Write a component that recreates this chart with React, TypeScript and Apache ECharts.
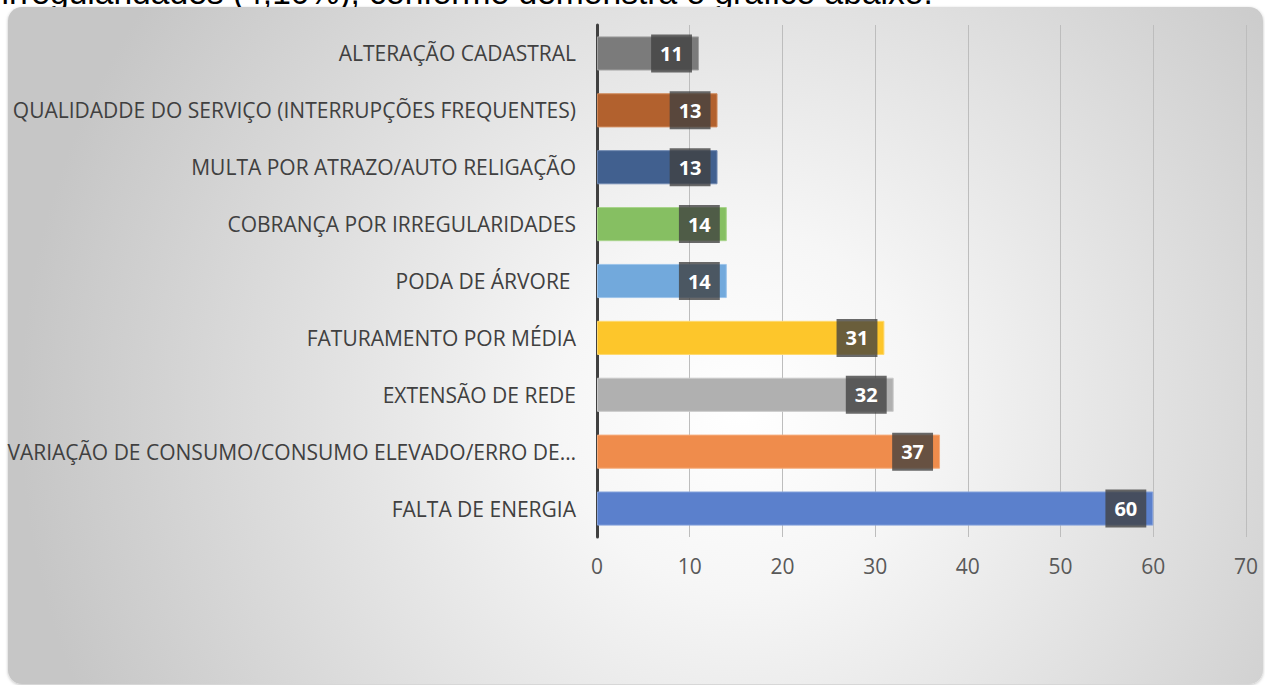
import React, { useEffect, useRef } from "react";
import * as echarts from "echarts";

const categories = [
  "ALTERAÇÃO CADASTRAL",
  "QUALIDADDE DO SERVIÇO (INTERRUPÇÕES FREQUENTES)",
  "MULTA POR ATRAZO/AUTO RELIGAÇÃO",
  "COBRANÇA POR IRREGULARIDADES",
  "PODA DE ÁRVORE ",
  "FATURAMENTO POR MÉDIA",
  "EXTENSÃO DE REDE",
  "VARIAÇÃO DE CONSUMO/CONSUMO ELEVADO/ERRO DE…",
  "FALTA DE ENERGIA",
];
const values = [11, 13, 13, 14, 14, 31, 32, 37, 60];
const barColors = [
  "#7b7b7b",
  "#b2612e",
  "#41608f",
  "#86bf62",
  "#72a9dc",
  "#fdc62b",
  "#b0b0b0",
  "#ef8c4c",
  "#5b80cc",
];
const borderColors = [
  "#a2a2a2",
  "#d08a5c",
  "#6f88b0",
  "#a9d48c",
  "#9cc4ea",
  "#fed96e",
  "#cacaca",
  "#f5ad7e",
  "#87a3dc",
];
const xTicks = { min: 0, max: 70, interval: 10 };
const introText = "irregularidades (4,10%), conforme demonstra o gráfico abaixo.";

export default function App() {
  const ref = useRef<HTMLDivElement>(null);
  useEffect(() => {
    if (!ref.current) return;
    const chart = echarts.init(ref.current, undefined, { renderer: "svg" });
    const font = "'Open Sans', sans-serif";
    chart.setOption({
      animation: false,
      graphic: [
        {
          type: "text",
          x: 1.5,
          y: -7.5,
          z: -20,
          style: {
            text: introText,
            font: "33.6px 'Liberation Sans', Arial, sans-serif",
            fill: "#000000",
            verticalAlign: "middle",
          },
        },
        {
          type: "rect",
          z: -10,
          shape: { x: 8, y: 7, width: 1255, height: 677, r: 14 },
          style: {
            fill: {
              type: "radial",
              x: 740,
              y: 410,
              r: 720,
              global: true,
              colorStops: [
                { offset: 0, color: "#ffffff" },
                { offset: 0.25, color: "#f6f6f6" },
                { offset: 1, color: "#c6c6c6" },
              ],
            },
            shadowBlur: 3,
            shadowColor: "rgba(0,0,0,0.25)",
            shadowOffsetY: 1,
          },
          silent: true,
        },
      ],
      grid: { left: 597, right: 19, top: 25, bottom: 148, containLabel: false },
      xAxis: {
        type: "value",
        min: xTicks.min,
        max: xTicks.max,
        interval: xTicks.interval,
        axisLine: { show: false },
        axisTick: { show: false },
        splitLine: { show: true, lineStyle: { color: "#bdbdbd", width: 1 } },
        axisLabel: { color: "#595959", fontSize: 21, fontFamily: font, margin: 18 },
      },
      yAxis: {
        type: "category",
        data: categories,
        inverse: true,
        axisLine: { show: true, lineStyle: { color: "#404040", width: 3 } },
        axisTick: { show: false },
        axisLabel: { color: "#404040", fontSize: 21, fontFamily: font, margin: 21 },
      },
      series: [
        {
          type: "bar",
          barCategoryGap: "40%",
          data: values.map((v, i) => ({
            value: v,
            itemStyle: { color: barColors[i], borderColor: borderColors[i], borderWidth: 1 },
          })),
          label: {
            show: true,
            position: "insideRight",
            distance: 7,
            formatter: "{c}",
            color: "#ffffff",
            fontWeight: "bold",
            fontSize: 20,
            lineHeight: 20,
            fontFamily: font,
            backgroundColor: "rgba(64,64,64,0.78)",
            padding: [9, 9, 9, 9],
          },
        },
      ],
    });
    return () => chart.dispose();
  }, []);
  return (
    <div style={{ position: "fixed", left: 0, top: 0, width: 1265, height: 685, background: "#ffffff" }}>
      <div ref={ref} style={{ width: 1265, height: 685 }} />
    </div>
  );
}
